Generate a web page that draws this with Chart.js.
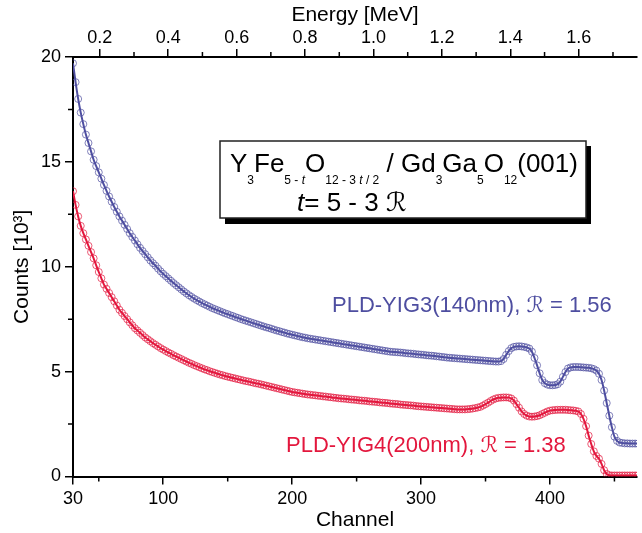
<!DOCTYPE html>
<html>
<head>
<meta charset="utf-8">
<script src="https://cdn.jsdelivr.net/npm/chart.js@4.4.0/dist/chart.umd.min.js"></script>
<style>
  html, body { margin: 0; padding: 0; background: #fff; }
</style>
</head>
<body>
<canvas id="rbsChart" width="642" height="533"></canvas>
<script>
// RBS channels (every 2nd channel)
const channels = [
  30, 32, 34, 36, 38, 40, 42, 44, 46, 48,
  50, 52, 54, 56, 58, 60, 62, 64, 66, 68,
  70, 72, 74, 76, 78, 80, 82, 84, 86, 88,
  90, 92, 94, 96, 98, 100, 102, 104, 106, 108,
  110, 112, 114, 116, 118, 120, 122, 124, 126, 128,
  130, 132, 134, 136, 138, 140, 142, 144, 146, 148,
  150, 152, 154, 156, 158, 160, 162, 164, 166, 168,
  170, 172, 174, 176, 178, 180, 182, 184, 186, 188,
  190, 192, 194, 196, 198, 200, 202, 204, 206, 208,
  210, 212, 214, 216, 218, 220, 222, 224, 226, 228,
  230, 232, 234, 236, 238, 240, 242, 244, 246, 248,
  250, 252, 254, 256, 258, 260, 262, 264, 266, 268,
  270, 272, 274, 276, 278, 280, 282, 284, 286, 288,
  290, 292, 294, 296, 298, 300, 302, 304, 306, 308,
  310, 312, 314, 316, 318, 320, 322, 324, 326, 328,
  330, 332, 334, 336, 338, 340, 342, 344, 346, 348,
  350, 352, 354, 356, 358, 360, 362, 364, 366, 368,
  370, 372, 374, 376, 378, 380, 382, 384, 386, 388,
  390, 392, 394, 396, 398, 400, 402, 404, 406, 408,
  410, 412, 414, 416, 418, 420, 422, 424, 426, 428,
  430, 432, 434, 436, 438, 440, 442, 444, 446, 448,
  450, 452, 454, 456, 458, 460, 462, 464, 466, 468
];

// counts in units of 10^3
const yig3Counts = [
  19.7, 18.8, 18.0, 17.35, 16.8, 16.3, 15.9, 15.5, 15.1, 14.8,
  14.5, 14.2, 13.9, 13.62, 13.35, 13.1, 12.85, 12.62, 12.4, 12.2,
  12.0, 11.8, 11.6, 11.42, 11.25, 11.07, 10.9, 10.75, 10.6, 10.45,
  10.3, 10.17, 10.05, 9.91, 9.78, 9.66, 9.55, 9.44, 9.33, 9.22,
  9.12, 9.02, 8.92, 8.82, 8.73, 8.64, 8.56, 8.48, 8.41, 8.34,
  8.27, 8.21, 8.15, 8.09, 8.03, 7.98, 7.93, 7.88, 7.83, 7.78,
  7.74, 7.69, 7.65, 7.6, 7.56, 7.51, 7.47, 7.43, 7.39, 7.35,
  7.31, 7.27, 7.23, 7.19, 7.15, 7.11, 7.08, 7.04, 7.0, 6.96,
  6.93, 6.89, 6.86, 6.82, 6.79, 6.76, 6.73, 6.7, 6.67, 6.64,
  6.62, 6.59, 6.57, 6.55, 6.53, 6.51, 6.49, 6.47, 6.45, 6.43,
  6.41, 6.39, 6.37, 6.35, 6.33, 6.31, 6.29, 6.27, 6.25, 6.23,
  6.21, 6.19, 6.17, 6.15, 6.13, 6.11, 6.09, 6.07, 6.05, 6.03,
  6.01, 5.99, 5.97, 5.95, 5.94, 5.93, 5.92, 5.91, 5.9, 5.88,
  5.87, 5.86, 5.85, 5.83, 5.82, 5.81, 5.8, 5.78, 5.77, 5.76,
  5.75, 5.73, 5.72, 5.7, 5.69, 5.67, 5.66, 5.65, 5.64, 5.63,
  5.62, 5.61, 5.6, 5.59, 5.58, 5.57, 5.56, 5.55, 5.54, 5.53,
  5.52, 5.51, 5.5, 5.49, 5.48, 5.48, 5.5, 5.6, 5.8, 5.98,
  6.12, 6.18, 6.2, 6.21, 6.2, 6.18, 6.15, 6.1, 5.95, 5.65,
  5.3, 4.92, 4.6, 4.45, 4.38, 4.35, 4.35, 4.36, 4.4, 4.52,
  4.75, 4.98, 5.15, 5.2, 5.22, 5.22, 5.22, 5.21, 5.2, 5.19,
  5.18, 5.16, 5.12, 5.05, 4.9, 4.6, 4.1, 3.5, 2.9, 2.35,
  1.9, 1.7, 1.62, 1.6, 1.58, 1.58, 1.57, 1.57, 1.57, 1.57
];

const yig4Counts = [
  13.6, 12.95, 12.4, 11.95, 11.6, 11.3, 11.0, 10.7, 10.4, 10.07,
  9.75, 9.45, 9.15, 8.95, 8.75, 8.55, 8.35, 8.15, 7.95, 7.8,
  7.65, 7.5, 7.35, 7.21, 7.07, 6.96, 6.85, 6.74, 6.63, 6.54,
  6.45, 6.36, 6.28, 6.2, 6.12, 6.05, 5.98, 5.91, 5.85, 5.78,
  5.72, 5.66, 5.6, 5.54, 5.48, 5.42, 5.37, 5.31, 5.26, 5.21,
  5.16, 5.11, 5.07, 5.02, 4.98, 4.94, 4.9, 4.86, 4.83, 4.79,
  4.76, 4.73, 4.7, 4.67, 4.64, 4.61, 4.58, 4.55, 4.53, 4.5,
  4.47, 4.44, 4.42, 4.39, 4.36, 4.33, 4.3, 4.27, 4.24, 4.21,
  4.18, 4.15, 4.12, 4.09, 4.06, 4.03, 4.01, 3.99, 3.97, 3.95,
  3.93, 3.91, 3.9, 3.88, 3.87, 3.85, 3.84, 3.82, 3.81, 3.79,
  3.78, 3.76, 3.75, 3.73, 3.72, 3.71, 3.7, 3.68, 3.67, 3.66,
  3.65, 3.63, 3.62, 3.61, 3.6, 3.58, 3.57, 3.56, 3.55, 3.53,
  3.52, 3.51, 3.5, 3.48, 3.47, 3.46, 3.45, 3.43, 3.42, 3.41,
  3.4, 3.39, 3.38, 3.36, 3.35, 3.34, 3.33, 3.32, 3.31, 3.3,
  3.29, 3.28, 3.27, 3.26, 3.25, 3.24, 3.23, 3.22, 3.21, 3.2,
  3.2, 3.2, 3.2, 3.21, 3.22, 3.24, 3.26, 3.29, 3.32, 3.38,
  3.45, 3.52, 3.6, 3.67, 3.72, 3.75, 3.76, 3.77, 3.77, 3.76,
  3.72, 3.62, 3.45, 3.28, 3.1, 2.98, 2.9, 2.86, 2.85, 2.86,
  2.88, 2.92, 2.98, 3.04, 3.1, 3.14, 3.16, 3.17, 3.18, 3.18,
  3.18, 3.18, 3.17, 3.16, 3.15, 3.13, 3.1, 2.98, 2.75, 2.4,
  1.95, 1.55, 1.2, 0.98, 0.85, 0.6, 0.3, 0.12, 0.06, 0.05,
  0.05, 0.05, 0.05, 0.05, 0.05, 0.05, 0.05, 0.05, 0.05, 0.05
];

// tick labels
const channelTicks = [30, 100, 200, 300, 400];
const channelMinor = [50, 150, 250, 350, 450];
const energyTicks = [0.2, 0.4, 0.6, 0.8, 1.0, 1.2, 1.4, 1.6];
const energyMinor = [0.3, 0.5, 0.7, 0.9, 1.1, 1.3, 1.5, 1.7];
const countTicks = [0, 5, 10, 15, 20];
const countMinor = [2.5, 7.5, 12.5, 17.5];

const FONT = '"Liberation Sans", Arial, "DejaVu Sans", sans-serif';
const BLUE = '#4e4ea0';
const RED = '#e3173d';

// minor tick marks (Chart.js has no minor ticks)
const minorTicks = {
  id: 'minorTicks',
  afterDraw(chart) {
    const { ctx, chartArea: a, scales } = chart;
    ctx.save();
    ctx.strokeStyle = '#000';
    ctx.lineWidth = 1.5;
    ctx.beginPath();
    channelMinor.forEach(v => {
      const px = scales.x.getPixelForValue(v);
      ctx.moveTo(px, a.bottom); ctx.lineTo(px, a.bottom + 5);
    });
    energyMinor.forEach(v => {
      const px = scales.x2.getPixelForValue(v);
      ctx.moveTo(px, a.top); ctx.lineTo(px, a.top - 5);
    });
    countMinor.forEach(v => {
      const py = scales.y.getPixelForValue(v);
      ctx.moveTo(a.left, py); ctx.lineTo(a.left - 5, py);
    });
    ctx.stroke();
    ctx.restore();
  }
};

// draw a line of text with subscripts / italics
function drawRuns(ctx, runs, x, y, size, subSize, subDrop) {
  runs.forEach(r => {
    const fs = r.sub ? subSize : size;
    ctx.font = (r.it ? 'italic ' : '') + fs + 'px ' + FONT;
    ctx.fillText(r.t, x, r.sub ? y + subDrop : y);
    x += ctx.measureText(r.t).width;
  });
}

const annotations = {
  id: 'annotations',
  afterDatasetsDraw(chart) {
    const ctx = chart.ctx;
    ctx.save();
    // formula box with shadow
    ctx.fillStyle = '#000';
    ctx.fillRect(225, 146, 366, 78);
    ctx.fillStyle = '#fff';
    ctx.fillRect(220, 141, 366, 77);
    ctx.strokeStyle = '#222';
    ctx.lineWidth = 1.5;
    ctx.strokeRect(220, 141, 366, 77);

    ctx.fillStyle = '#000';
    ctx.textBaseline = 'alphabetic';
    ctx.textAlign = 'left';
    drawRuns(ctx, [
      { t: 'Y' }, { t: '3', sub: true }, { t: 'Fe' }, { t: '5 - ', sub: true }, { t: 't', sub: true, it: true },
      { t: 'O' }, { t: '12 - 3 ', sub: true }, { t: 't', sub: true, it: true }, { t: ' / 2', sub: true },
      { t: ' / Gd' }, { t: '3', sub: true }, { t: 'Ga' }, { t: '5', sub: true }, { t: 'O' }, { t: '12', sub: true },
      { t: '(001)' }
    ], 230, 172, 26, 12, 12);
    drawRuns(ctx, [
      { t: 't', it: true }, { t: '= 5 - 3 ' }, { t: 'ℛ' }
    ], 297, 211, 26, 12, 12);

    // sample labels
    ctx.font = '22px ' + FONT;
    ctx.fillStyle = BLUE;
    ctx.fillText('PLD-YIG3(140nm), ℛ = 1.56', 332, 312);
    ctx.fillStyle = RED;
    ctx.fillText('PLD-YIG4(200nm), ℛ = 1.38', 286, 452);
    ctx.restore();
  }
};

function toPoints(values) {
  return channels.map((c, i) => ({ x: c, y: values[i] }));
}

function tickFont() { return { family: FONT, size: 18 }; }
function titleFont() { return { family: FONT, size: 21 }; }
const gridOpts = { drawOnChartArea: false, tickLength: 8, color: '#000', lineWidth: 1.5 };
const borderOpts = { color: '#000', width: 2 };

const ctx = document.getElementById('rbsChart').getContext('2d');
new Chart(ctx, {
  type: 'line',
  data: {
    datasets: [
      {
        label: 'PLD-YIG3(140nm)',
        data: toPoints(yig3Counts),
        borderColor: BLUE,
        borderWidth: 2,
        pointRadius: 3.5,
        pointBorderWidth: 1,
        pointBorderColor: 'rgba(78,78,160,0.7)',
        pointBackgroundColor: 'rgba(255,255,255,0)',
        cubicInterpolationMode: 'monotone',
        xAxisID: 'x',
        yAxisID: 'y'
      },
      {
        label: 'PLD-YIG4(200nm)',
        data: toPoints(yig4Counts),
        borderColor: RED,
        borderWidth: 2,
        pointRadius: 3.5,
        pointBorderWidth: 1,
        pointBorderColor: 'rgba(227,23,61,0.7)',
        pointBackgroundColor: 'rgba(255,255,255,0)',
        cubicInterpolationMode: 'monotone',
        xAxisID: 'x',
        yAxisID: 'y'
      }
    ]
  },
  options: {
    responsive: false,
    animation: false,
    layout: { padding: 0 },
    plugins: { legend: { display: false }, tooltip: { enabled: false } },
    scales: {
      x: {
        type: 'linear',
        position: 'bottom',
        min: 30,
        max: 467.5,
        afterBuildTicks: s => { s.ticks = channelTicks.map(v => ({ value: v })); },
        afterFit: s => { s.height = 56.5; },
        ticks: { font: tickFont(), color: '#000', padding: 4, maxRotation: 0, autoSkip: false },
        grid: gridOpts,
        border: borderOpts,
        title: { display: true, text: 'Channel', color: '#000', font: titleFont(), padding: { top: 0, bottom: 0 } }
      },
      x2: {
        type: 'linear',
        position: 'top',
        min: 0.1217,
        max: 1.7702,
        afterBuildTicks: s => { s.ticks = energyTicks.map(v => ({ value: v })); },
        afterFit: s => { s.height = 57; },
        ticks: { font: tickFont(), color: '#000', padding: 0, maxRotation: 0, autoSkip: false,
                 callback: v => Number(v).toFixed(1) },
        grid: gridOpts,
        border: borderOpts,
        title: { display: true, text: 'Energy [MeV]', color: '#000', font: titleFont(), padding: { top: 3, bottom: 0 } }
      },
      y: {
        type: 'linear',
        position: 'left',
        min: 0,
        max: 20,
        afterBuildTicks: s => { s.ticks = countTicks.map(v => ({ value: v })); },
        afterFit: s => { s.width = 73; },
        ticks: { font: tickFont(), color: '#000', padding: 4 },
        grid: gridOpts,
        border: borderOpts,
        title: { display: true, text: 'Counts [10³]', color: '#000', font: titleFont(), padding: { top: 10, bottom: 0 } }
      }
    }
  },
  plugins: [minorTicks, annotations]
});
</script>
</body>
</html>
